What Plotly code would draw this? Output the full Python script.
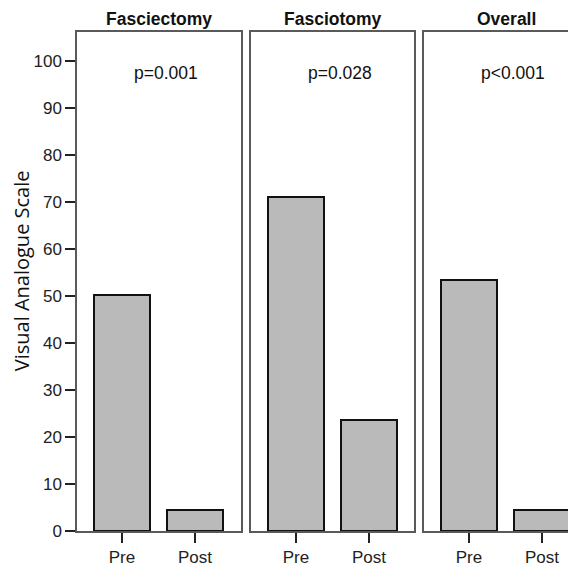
import plotly.graph_objects as go

categories = ["Pre", "Post"]
panel_titles = ["Fasciectomy", "Fasciotomy", "Overall"]
fasciectomy = [50.2, 4.5]
fasciotomy = [71.0, 23.6]
overall = [53.4, 4.5]
p_values = ["p=0.001", "p=0.028", "p<0.001"]
y_ticks = list(range(0, 101, 10))
y_title = "Visual Analogue Scale"

series = [fasciectomy, fasciotomy, overall]

# page body has an 8px margin; figure coordinates are screen - 8
OFF = 8
W, H = 576 - OFF, 567 - OFF
ML, MR, MT = 77 - OFF, 0, 32 - OFF
MB = H - (534.7 - OFF)
PW = W - ML - MR
PH = H - MT - MB

panels_px = [(0, 164), (174, 337), (347, PW)]
unit_px = 73.0
x0 = -0.616

fig = go.Figure()
frame = "#5a5a5a"
font_fam = "Liberation Sans, Arial"
for i, (vals, (a, b)) in enumerate(zip(series, panels_px)):
    xa = "x" if i == 0 else f"x{i+1}"
    ya = "y" if i == 0 else f"y{i+1}"
    fig.add_trace(go.Bar(
        x=categories, y=vals, xaxis=xa, yaxis=ya, width=0.77,
        marker=dict(color="#bababa", line=dict(color="#111111", width=2)),
        showlegend=False, hoverinfo="skip"))
    x1 = x0 + (b - a) / unit_px
    xkey = "xaxis" if i == 0 else f"xaxis{i+1}"
    ykey = "yaxis" if i == 0 else f"yaxis{i+1}"
    fig.layout[xkey] = dict(
        domain=[a / PW, b / PW], range=[x0, x1], anchor=ya,
        showline=True, linecolor=frame, linewidth=1.5, mirror=True,
        ticks="outside", ticklen=10, tickwidth=1.8, tickcolor="#222",
        tickfont=dict(family=font_fam, size=17, color="#222"),
        showgrid=False, zeroline=False, fixedrange=True)
    fig.layout[ykey] = dict(
        domain=[0, 1], range=[0, 106.1], anchor=xa,
        showline=True, linecolor=frame, linewidth=1.5,
        mirror=(i < 2),
        showgrid=False, zeroline=False,
        tickvals=y_ticks if i == 0 else [],
        ticks="outside" if i == 0 else "", ticklen=10, tickwidth=1.8, tickcolor="#222",
        showticklabels=(i == 0),
        tickfont=dict(family=font_fam, size=17, color="#222"))
    full_center = x0 + (164 / unit_px) / 2
    fig.add_annotation(text="<b>" + panel_titles[i] + "</b>", xref=xa, x=full_center,
                       yref="paper", y=1, yanchor="bottom", yshift=1, showarrow=False,
                       font=dict(family=font_fam, size=17.5, color="#111"))
    fig.add_annotation(text=p_values[i], xref=xa, x=0.6, yref=ya, y=97.3,
                       showarrow=False,
                       font=dict(family=font_fam, size=17.5, color="#111"))

fig.add_annotation(text=y_title, textangle=-90, xref="paper", x=-56 / PW, xanchor="center",
                   yref="paper", y=(534.7 - 273) / PH, yanchor="middle",
                   showarrow=False,
                   font=dict(family="Open Sans", size=20, color="#111"))

fig.update_layout(width=W, height=H, margin=dict(l=ML, r=MR, t=MT, b=MB),
                  plot_bgcolor="white", paper_bgcolor="white", bargap=0)
fig.write_html("out.html")
